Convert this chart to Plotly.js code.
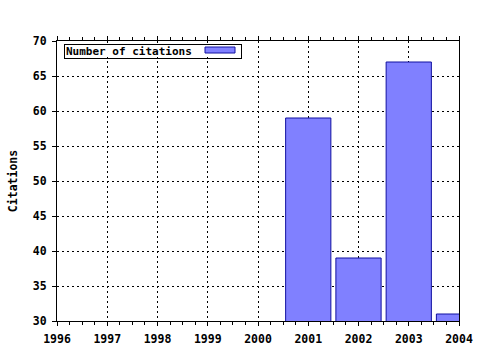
<!DOCTYPE html>
<html>
<head>
<meta charset="utf-8">
<script src="https://cdn.plot.ly/plotly-3.0.1.min.js"></script>
<style>html,body{margin:0;padding:0;background:#fff;}#chart{width:480px;height:350px;}</style>
</head>
<body>
<div id="chart"></div>
<script>
const years = [2001, 2002, 2003, 2004];
const citations = [59, 39, 67, 31];
const seriesName = "Number of citations";
const yTitle = "Citations";

const font = {family: "DejaVu Sans Mono, monospace", size: 11.5, color: "#000", weight: "bold"};
const legendFont = {family: "DejaVu Sans Mono, monospace", size: 11, color: "#000", weight: "bold"};
const barFill = "#8080ff";
const barLine = "#1010a0";

const trace = {
  type: "bar",
  x: years,
  y: citations,
  width: 0.9,
  name: seriesName,
  marker: {color: barFill, line: {color: barLine, width: 1}},
  showlegend: false,
  hoverinfo: "x+y"
};

// plot area in pixels: x 57..459, y 41..321
const px = v => (v - 57) / 402;
const py = v => (321 - v) / 280;

const layout = {
  width: 480, height: 350,
  margin: {l: 57, r: 21, t: 41, b: 29, pad: 0},
  paper_bgcolor: "#fff", plot_bgcolor: "#fff",
  font: font,
  showlegend: false,
  xaxis: {
    range: [1996, 2004], dtick: 1, tick0: 1996,
    ticks: "outside", ticklen: 4, tickcolor: "#000", tickwidth: 1,
    showline: true, linecolor: "#000", linewidth: 1, mirror: "allticks",
    showgrid: true, gridcolor: "#000", gridwidth: 1, griddash: "2px,3px",
    zeroline: false, tickfont: font, ticklabelstandoff: 3,
    minor: {dtick: 0.25, ticks: "outside", ticklen: 3, tickcolor: "#000", showgrid: false},
    fixedrange: true
  },
  yaxis: {
    range: [30, 70], dtick: 5,
    ticks: "outside", ticklen: 4, tickcolor: "#000", tickwidth: 1,
    showline: true, linecolor: "#000", linewidth: 1, mirror: true,
    showgrid: true, gridcolor: "#000", gridwidth: 1, griddash: "2px,3px",
    zeroline: false, tickfont: font, ticklabelstandoff: 3,
    title: {text: yTitle, font: font, standoff: 12},
    fixedrange: true
  },
  annotations: [{
    xref: "paper", yref: "paper",
    x: px(64), y: py(44), xanchor: "left", yanchor: "top",
    text: seriesName, showarrow: false, align: "left",
    width: 174, height: 11, font: legendFont,
    bordercolor: "#000", borderwidth: 1, borderpad: 1, bgcolor: "rgba(0,0,0,0)"
  }],
  shapes: [{
    type: "rect", xref: "paper", yref: "paper", layer: "above",
    x0: px(64), x1: px(242), y0: py(57), y1: py(44),
    fillcolor: "#fff", line: {width: 0}
  }, {
    type: "rect", xref: "paper", yref: "paper", layer: "above",
    x0: px(205), x1: px(235), y0: py(53), y1: py(47),
    fillcolor: barFill, line: {color: barLine, width: 1}
  }]
};

Plotly.newPlot("chart", [trace], layout, {displayModeBar: false, staticPlot: true});
</script>
</body>
</html>
